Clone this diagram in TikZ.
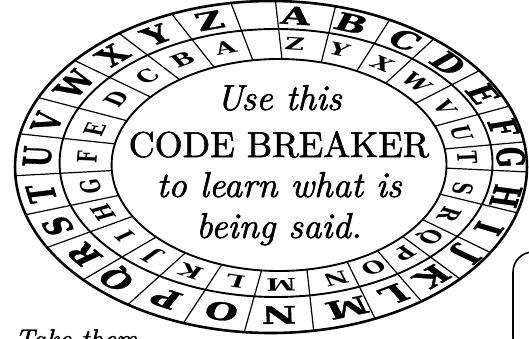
\documentclass[tikz,border=0pt]{standalone}
\usepackage{fontspec}
\newfontfamily\ringfont{DejaVu Serif}
\newfontfamily\ringheavy{DejaVu Serif}[BoldFeatures={FakeBold=1.2}]
\newfontfamily\bookfont{lmroman10-regular.otf}[ItalicFont=lmroman10-italic.otf, FakeBold=1.5]

\begin{document}
\begin{tikzpicture}[x=1pt, y=1pt,
    rim/.style={line width=2.6pt},
    ring/.style={line width=1.9pt},
    spoke/.style={line width=1.2pt},
    outerletter/.style={font=\ringheavy\bfseries\fontsize{24}{24}\selectfont, inner sep=0pt, transform shape},
    innerletter/.style={font=\ringfont\bfseries\fontsize{17}{17}\selectfont, inner sep=0pt, transform shape},
    motto/.style={font=\bookfont\itshape\fontsize{36}{36}\selectfont, anchor=base, inner sep=0pt},
    mottocaps/.style={font=\bookfont\fontsize{36}{36}\selectfont, anchor=base, inner sep=0pt}]
    \useasboundingbox (0,0) rectangle (529,338);
    \clip (0,0) rectangle (529,338);

    % the wheel
    \begin{scope}[shift={(274,173)}, xscale=1.58]
        \draw[rim] (-1.9,-2) ellipse [x radius=162, y radius=166];
        \draw[ring] (1.3,2) ellipse [x radius=137, y radius=134];
        \draw[ring] (3.2,0) ellipse [x radius=106, y radius=106];
        \foreach \t in {89, 75.4, 62.4, 50.5, 35.5, 21.5, 8.7, -1.7, -16, -31, -42.4, -54, -66,
                        -80.4, -96, -110, -124, -137.2, -151, -163.3, -177, -191.5, -204.7,
                        -219.9, -233.6, -247.2, -261}
            \draw[spoke] ({3.2+106*cos(\t)},{106*sin(\t)}) -- ({-1.9+162*cos(\t)},{-2+166*sin(\t)});
        \foreach \a/\b/\t in {A/Z/84.7, B/Y/71, C/X/56.5, D/W/42.7, E/V/28.3, F/U/14.6, G/T/3,
                              H/S/-12, I/R/-25, J/Q/-36.7, K/P/-48.1, L/O/-59.6, M/N/-72,
                              N/M/-88.8, O/L/-102.8, P/K/-117.1, Q/J/-131.1, R/I/-143.3,
                              S/H/-156, T/G/-169, U/F/-183.3, V/E/-196.7, W/D/-212.7,
                              X/C/-227, Y/B/-240.2, Z/A/-254.2}{
            \node[outerletter, rotate=\t-90] (out-\a) at (\t:150) {\a};
            \node[innerletter, rotate=\t-90] (in-\b) at ({2+120.5*cos(\t)},{1+120.5*sin(\t)}) {\b};
        }
    \end{scope}

    \node[motto] (use) at (279,228) {Use this};
    \node[mottocaps] (breaker) at (279,181) {CODE BREAKER};
    \node[motto] (learn) at (279,141) {to learn what is};
    \node[motto] (said) at (279,100) {being said.};

    \node[motto, font=\bookfont\itshape\fontsize{27}{27}\selectfont, anchor=base west] (take) at (15,-10) {Take them};

    \draw[line width=1.6pt, rounded corners=20pt] (513,-20) rectangle (620,86);
\end{tikzpicture}
\end{document}
